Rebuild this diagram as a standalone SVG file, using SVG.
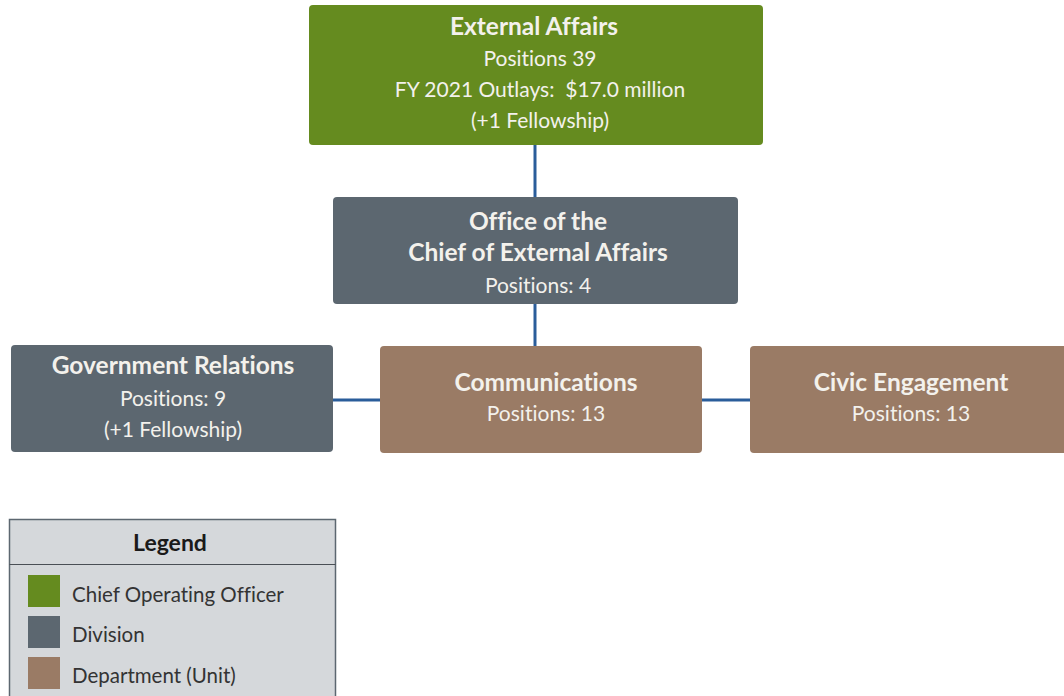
<svg xmlns="http://www.w3.org/2000/svg" width="1064" height="696" viewBox="0 0 1064 696">
<style>
.green{fill:#658B1F}
.slate{fill:#5C6770}
.brown{fill:#9A7B65}
text{font-variant-ligatures:none;white-space:pre}
.t{font-family:Lato,"Liberation Sans",sans-serif;text-anchor:middle;fill:#F3F1EC}
.b{font-weight:bold;font-size:24.5px}
.r{font-size:21px;font-weight:normal}
.conn{stroke:#2A5D9A;stroke-width:3;fill:none}
.lg{font-family:Lato,"Liberation Sans",sans-serif;font-size:20.5px;fill:#333}
.lgh{font-family:Lato,"Liberation Sans",sans-serif;font-size:23px;font-weight:bold;fill:#1a1a1a;text-anchor:middle}
</style>
<rect width="1064" height="696" fill="#fff"/>
<g id="connectors">
<line class="conn" x1="535" y1="145" x2="535" y2="197"/>
<line class="conn" x1="535" y1="304" x2="535" y2="346"/>
<line class="conn" x1="333" y1="400" x2="380" y2="400"/>
<line class="conn" x1="702" y1="400" x2="750" y2="400"/>
</g>
<g id="external-affairs">
<rect class="green" x="309" y="5" width="454" height="140" rx="4"/>
<text class="t b" x="534" y="35">External Affairs</text>
<text class="t r" x="540" y="66">Positions 39</text>
<text class="t r" x="540" y="97" xml:space="preserve">FY 2021 Outlays:  $17.0 million</text>
<text class="t r" x="540" y="128">(+1 Fellowship)</text>
</g>
<g id="office-chief">
<rect class="slate" x="333" y="197" width="405" height="107" rx="4"/>
<text class="t b" x="538" y="230">Office of the</text>
<text class="t b" x="538" y="261">Chief of External Affairs</text>
<text class="t r" x="538" y="293">Positions: 4</text>
</g>
<g id="government-relations">
<rect class="slate" x="11" y="345" width="322" height="107" rx="4"/>
<text class="t b" x="173" y="374">Government Relations</text>
<text class="t r" x="173" y="406">Positions: 9</text>
<text class="t r" x="173" y="437">(+1 Fellowship)</text>
</g>
<g id="communications">
<rect class="brown" x="380" y="346" width="322" height="107" rx="4"/>
<text class="t b" x="546" y="391">Communications</text>
<text class="t r" x="546" y="421">Positions: 13</text>
</g>
<g id="civic-engagement">
<rect class="brown" x="750" y="346" width="320" height="107" rx="4"/>
<text class="t b" x="911" y="391">Civic Engagement</text>
<text class="t r" x="911" y="421">Positions: 13</text>
</g>
<g id="legend">
<rect x="9.5" y="519.5" width="326" height="190" fill="#D5D8DB" stroke="#5C6770" stroke-width="1.5"/>
<line x1="9.5" y1="564.5" x2="335.5" y2="564.5" stroke="#4A4F55" stroke-width="1.2"/>
<text class="lgh" x="170" y="551">Legend</text>
<rect class="green" x="28" y="575" width="32" height="32"/>
<text class="lg" x="72" y="602">Chief Operating Officer</text>
<rect class="slate" x="28" y="616" width="32" height="32"/>
<text class="lg" x="72" y="642">Division</text>
<rect class="brown" x="28" y="657" width="32" height="32"/>
<text class="lg" x="72" y="683">Department (Unit)</text>
</g>
</svg>
